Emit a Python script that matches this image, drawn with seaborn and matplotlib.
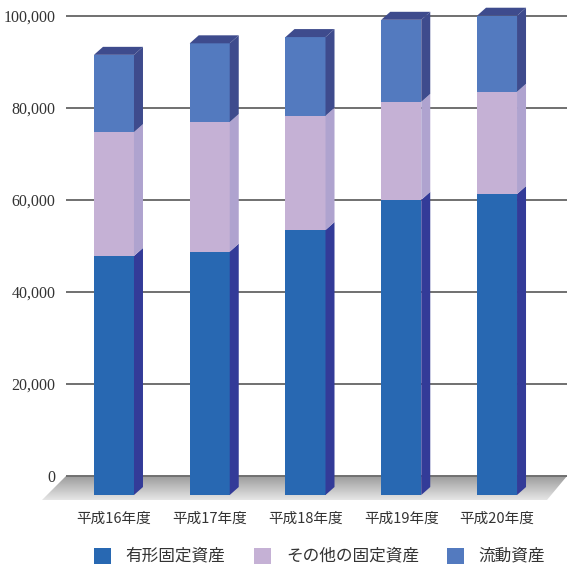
import numpy as np
import pandas as pd
import matplotlib
matplotlib.use("Agg")
import matplotlib.pyplot as plt
import seaborn as sns
from matplotlib.patches import Polygon, Rectangle
from matplotlib.colors import LinearSegmentedColormap

# ---- data -------------------------------------------------------------
years = ["平成16年度", "平成17年度", "平成18年度", "平成19年度", "平成20年度"]
fixed_tangible = [49800, 50700, 55200, 61500, 62700]   # 有形固定資産
other_fixed = [25800, 27000, 23800, 20400, 21300]      # その他の固定資産
current_assets = [16100, 16400, 16400, 17100, 15850]   # 流動資産
series_names = ["有形固定資産", "その他の固定資産", "流動資産"]
y_ticks = [0, 20000, 40000, 60000, 80000, 100000]
y_tick_labels = ["0", "20,000", "40,000", "60,000", "80,000", "100,000"]

# ---- style ------------------------------------------------------------
front = {"fixed": "#2868B2", "other": "#C5B1D5", "current": "#537ABF"}
side = {"fixed": "#333B98", "other": "#AFA3CF", "current": "#3E4B8D"}
text_color = "#333333"

W, H, DPI = 567, 566, 100
sns.set_theme(style="white")
plt.rcParams["font.family"] = ["Noto Sans CJK JP", "DejaVu Sans"]

fig = plt.figure(figsize=(W / DPI, H / DPI), dpi=DPI)


def box(x0, y0, x1, y1):
    """Pixel box (origin top-left) -> figure-fraction rect."""
    return [x0 / W, 1 - y1 / H, (x1 - x0) / W, (y1 - y0) / H]


# ---- pixel overlay: floor and legend ---------------------------------
ax_pix = fig.add_axes([0, 0, 1, 1], zorder=0)
ax_pix.set_xlim(0, W)
ax_pix.set_ylim(H, 0)
ax_pix.axis("off")

floor = Polygon([(66, 476), (567, 476), (547, 500), (42, 500)],
                closed=True, facecolor="none", edgecolor="none")
ax_pix.add_patch(floor)
floor_cmap = LinearSegmentedColormap.from_list("floor", ["#9c9c9c", "#e6e6e6"])
grad = ax_pix.imshow(np.linspace(0, 1, 64).reshape(-1, 1), cmap=floor_cmap,
                     extent=(0, W, 500, 476), aspect="auto", origin="upper")
grad.set_clip_path(floor)
ax_pix.set_xlim(0, W)
ax_pix.set_ylim(H, 0)

legend_colors = [front["fixed"], front["other"], front["current"]]
legend_sq_x = [94, 254, 447]
legend_tx_x = [125, 286, 478]
for name, col, sx, tx in zip(series_names, legend_colors, legend_sq_x, legend_tx_x):
    ax_pix.add_patch(Rectangle((sx, 548), 17, 16, facecolor=col, edgecolor="none"))
    ax_pix.text(tx, 556, name, fontsize=12, color=text_color, va="center", ha="left")

# ---- back wall: value axis and gridlines ------------------------------
ax_back = fig.add_axes(box(66, 10, 567, 480), zorder=1)
px_per_unit_back = 4.6 / 1000
ax_back.set_ylim(-4 / px_per_unit_back, 100000 + 6 / px_per_unit_back)
ax_back.set_xlim(0, 1)
ax_back.patch.set_visible(False)
for s in ax_back.spines.values():
    s.set_visible(False)
ax_back.set_yticks(y_ticks)
ax_back.set_yticklabels(y_tick_labels, fontfamily=["Liberation Serif", "DejaVu Serif"],
                        fontsize=11.5, color=text_color)
ax_back.set_xticks([])
ax_back.tick_params(axis="y", length=0, pad=7.5)
ax_back.grid(axis="y", color="#707070", linewidth=1.4)
ax_back.grid(axis="x", visible=False)

# ---- front plane: stacked columns --------------------------------------
ax = fig.add_axes(box(66.1, 15, 544.9, 495), zorder=2)
ax.patch.set_visible(False)

df = pd.DataFrame({"year": years, "fixed": fixed_tangible,
                   "other": other_fixed, "current": current_assets})
df["fixed_other"] = df["fixed"] + df["other"]
df["total"] = df["fixed_other"] + df["current"]

bw = 40 / 95.75
sns.barplot(data=df, x="year", y="total", color=front["current"], width=bw,
            saturation=1, errorbar=None, ax=ax, edgecolor="none", linewidth=0)
sns.barplot(data=df, x="year", y="fixed_other", color=front["other"], width=bw,
            saturation=1, errorbar=None, ax=ax, edgecolor="none", linewidth=0)
sns.barplot(data=df, x="year", y="fixed", color=front["fixed"], width=bw,
            saturation=1, errorbar=None, ax=ax, edgecolor="none", linewidth=0)

ax.set_xlim(-0.5, len(years) - 0.5)
ax.set_ylim(0, 100000)

# depth offsets of the side/top faces, converted from pixels to data units
dx = 9 / 95.75
dy = 8 / (4.8 / 1000)

for i, row in df.iterrows():
    x0, x1 = i - bw / 2, i + bw / 2
    segs = [(0, row["fixed"], "fixed"),
            (row["fixed"], row["fixed_other"], "other"),
            (row["fixed_other"], row["total"], "current")]
    for lo, hi, key in segs:
        ax.add_patch(Polygon([(x1, lo), (x1 + dx, lo + dy), (x1 + dx, hi + dy), (x1, hi)],
                             closed=True, facecolor=side[key], edgecolor="none",
                             clip_on=False))
    top = row["total"]
    ax.add_patch(Polygon([(x0, top), (x0 + dx, top + dy), (x1 + dx, top + dy), (x1, top)],
                         closed=True, facecolor=side["current"], edgecolor="none",
                         clip_on=False))

for s in ax.spines.values():
    s.set_visible(False)
ax.set_yticks([])
ax.set_xticks(range(len(years)))
ax.set_xticklabels(years)
ax.tick_params(axis="x", length=0, pad=12, labelsize=10.5, labelcolor=text_color)
ax.set_xlabel("")
ax.set_ylabel("")
ax.grid(False)

fig.savefig("out.png", dpi=DPI)
